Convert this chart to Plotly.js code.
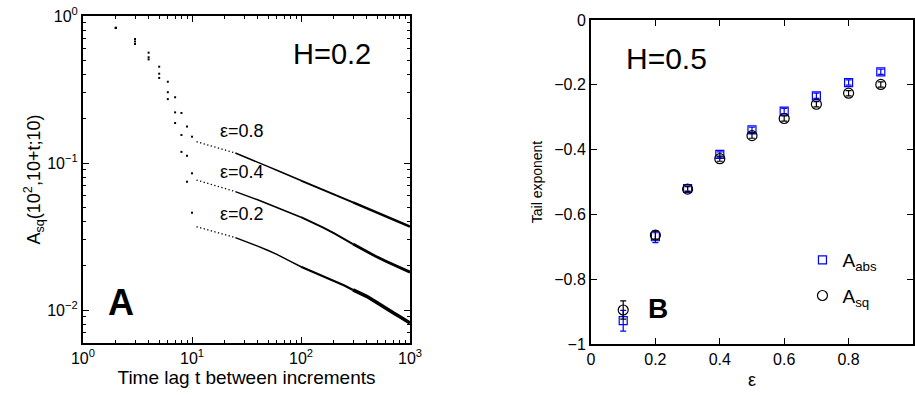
<!DOCTYPE html>
<html>
<head>
<meta charset="utf-8">
<script src="https://cdn.plot.ly/plotly-3.0.1.min.js"></script>
<style>html,body{margin:0;padding:0;background:#fff;}#chart{width:915px;height:395px;}</style>
</head>
<body>
<div id="chart"></div>
<script>
// ---------- Panel A data ----------
const tEarly = [2, 3, 4, 5, 6, 7, 8, 9, 10];
const eps08Early = [0.832, 0.697, 0.563, 0.452, 0.357, 0.280, 0.219, 0.177, 0.151];
const eps04Early = [0.830, 0.671, 0.524, 0.405, 0.303, 0.221, 0.155, 0.112, 0.0851];
const eps02Early = [0.828, 0.645, 0.507, 0.379, 0.272, 0.187, 0.119, 0.0746, 0.0459];

const tTail = [11, 12, 14, 16, 18, 20, 25, 30, 40, 50, 60, 80, 100, 130, 160, 200, 250, 300, 400, 500, 600, 700, 800, 900, 1000];
const eps08Tail = [0.1396, 0.1370, 0.1326, 0.1287, 0.1255, 0.1226, 0.1169, 0.1102, 0.1014, 0.0945, 0.0892, 0.0816, 0.0760, 0.0701, 0.0656, 0.0611, 0.0570, 0.0539, 0.0492, 0.0458, 0.0433, 0.0413, 0.0396, 0.0381, 0.0369];
const eps04Tail = [0.0766, 0.0752, 0.0727, 0.0705, 0.0687, 0.0671, 0.0639, 0.0610, 0.0562, 0.0526, 0.0499, 0.0458, 0.0428, 0.0392, 0.0364, 0.0333, 0.0304, 0.0281, 0.0249, 0.0229, 0.0215, 0.0204, 0.0195, 0.0187, 0.0181];
const eps02Tail = [0.0369, 0.0362, 0.0351, 0.0341, 0.0333, 0.0326, 0.0311, 0.0296, 0.0272, 0.0254, 0.0239, 0.0214, 0.0197, 0.0181, 0.0170, 0.0159, 0.0147, 0.0137, 0.0124, 0.0112, 0.0102, 0.00957, 0.00903, 0.00855, 0.00816];

const logTickVals = [1, 10, 100, 1000];
const logTickText = ['10<sup>0</sup>', '10<sup>1</sup>', '10<sup>2</sup>', '10<sup>3</sup>'];
const yLogTickVals = [0.01, 0.1, 1];
const yLogTickText = ['10<sup>\u22122</sup>', '10<sup>\u22121</sup>', '10<sup>0</sup>'];

// ---------- Panel B data ----------
const epsB = [0.1, 0.2, 0.3, 0.4, 0.5, 0.6, 0.7, 0.8, 0.9];
const aAbs = [-0.928, -0.669, -0.520, -0.415, -0.339, -0.281, -0.234, -0.193, -0.160];
const aAbsErr = [0.032, 0.018, 0.008, 0.008, 0.008, 0.008, 0.008, 0.008, 0.008];
const aSq = [-0.895, -0.664, -0.522, -0.428, -0.357, -0.304, -0.260, -0.226, -0.199];
const aSqErr = [0.028, 0.012, 0.008, 0.008, 0.008, 0.008, 0.008, 0.008, 0.008];
const bXTickVals = [0, 0.2, 0.4, 0.6, 0.8, 1];
const bXTickText = ['0', '0.2', '0.4', '0.6', '0.8', '1'];
const bYTickVals = [-1, -0.8, -0.6, -0.4, -0.2, 0];
const bYTickText = ['\u22121', '\u22120.8', '\u22120.6', '\u22120.4', '\u22120.2', '0'];

const FONT = 'Liberation Sans, Arial, Helvetica, sans-serif';
const traces = [];
function seg(x, y, style) {
  traces.push({x: x, y: y, mode: 'lines', type: 'scatter', xaxis: 'x', yaxis: 'y',
    line: Object.assign({color: '#000'}, style), showlegend: false, hoverinfo: 'skip'});
}
function addSeries(early, tail, w3, w4) {
  traces.push({x: tEarly, y: early, mode: 'markers', type: 'scatter', xaxis: 'x', yaxis: 'y',
    marker: {symbol: 'square', size: 2, color: '#000'}, showlegend: false, hoverinfo: 'skip'});
  seg(tTail.slice(0, 7), tail.slice(0, 7), {width: 1.3, dash: '1.3px,2.4px'});
  seg(tTail.slice(6, 13), tail.slice(6, 13), {width: 1.5});
  seg(tTail.slice(12, 18), tail.slice(12, 18), {width: w3});
  seg(tTail.slice(17), tail.slice(17), {width: w4});
}
addSeries(eps08Early, eps08Tail, 1.9, 2.5);
addSeries(eps04Early, eps04Tail, 2.0, 2.8);
addSeries(eps02Early, eps02Tail, 2.3, 3.6);

traces.push({x: epsB, y: aAbs, name: 'A<sub>abs</sub>', mode: 'markers', type: 'scatter', xaxis: 'x2', yaxis: 'y2',
  legendgroup: 'a',
  marker: {symbol: 'square-open', size: 8, color: '#0000ff', line: {width: 1.2, color: '#0000ff'}},
  error_y: {type: 'data', array: aAbsErr, visible: true, color: '#0000ff', thickness: 1.2, width: 3}});
traces.push({x: epsB, y: aSq, name: 'A<sub>sq</sub>', mode: 'markers', type: 'scatter', xaxis: 'x2', yaxis: 'y2',
  legendgroup: 'b',
  marker: {symbol: 'circle-open', size: 10, color: '#000', line: {width: 1.2, color: '#000'}},
  error_y: {type: 'data', array: aSqErr, visible: true, color: '#000', thickness: 1.2, width: 3}});

const axBase = {showgrid: false, zeroline: false, ticks: 'inside', ticklen: 6, tickwidth: 1,
  showline: true, linewidth: 2, linecolor: '#000', mirror: 'ticks', tickcolor: '#000',
  tickfont: {size: 16, family: FONT, color: '#000'}, fixedrange: true};

const layout = {
  width: 915, height: 395,
  margin: {l: 0, r: 0, t: 0, b: 0},
  paper_bgcolor: '#fff', plot_bgcolor: '#fff',
  font: {family: FONT, color: '#000'},
  showlegend: true,
  legend: {x: 0.877, y: 0.39, xanchor: 'left', yanchor: 'top', bgcolor: 'rgba(0,0,0,0)',
    font: {size: 19, family: FONT, color: '#000'}, tracegroupgap: 8, itemclick: false},
  xaxis: Object.assign({}, axBase, {type: 'log', range: [0, 3], domain: [0.0907, 0.4481], anchor: 'y',
    tickmode: 'array', tickvals: logTickVals, ticktext: logTickText,
    minor: {ticks: 'inside', ticklen: 3, dtick: 'D1', tickcolor: '#000'},
    title: {text: 'Time lag t between increments', font: {size: 19, family: FONT}, standoff: 4}}),
  yaxis: Object.assign({}, axBase, {type: 'log', range: [-2.2245, 0], domain: [0.1316, 0.9595], anchor: 'x',
    tickmode: 'array', tickvals: yLogTickVals, ticktext: yLogTickText,
    minor: {ticks: 'inside', ticklen: 3, dtick: 'D1', tickcolor: '#000'},
    title: {text: 'A<sub>sq</sub>(10<sup>2</sup>,10+t;10)', font: {size: 18, family: FONT}, standoff: 2}}),
  xaxis2: Object.assign({}, axBase, {range: [0, 1], domain: [0.6459, 0.9978], anchor: 'y2',
    tickmode: 'array', tickvals: bXTickVals, ticktext: bXTickText,
    title: {text: '\u03b5', font: {size: 18, family: FONT}, standoff: 6}}),
  yaxis2: Object.assign({}, axBase, {range: [-1, 0], domain: [0.1291, 0.9494], anchor: 'x2',
    tickmode: 'array', tickvals: bYTickVals, ticktext: bYTickText,
    title: {text: 'Tail exponent', font: {size: 14, family: FONT}, standoff: 8}}),
  annotations: [
    {xref: 'paper', yref: 'paper', x: 332 / 915, y: 1 - 54 / 395, text: 'H=0.2', showarrow: false,
      font: {size: 29, family: FONT}, xanchor: 'center', yanchor: 'middle'},
    {xref: 'paper', yref: 'paper', x: 242 / 915, y: 1 - 131 / 395, text: '\u03b5=0.8', showarrow: false,
      font: {size: 18, family: FONT}, xanchor: 'center', yanchor: 'middle'},
    {xref: 'paper', yref: 'paper', x: 242 / 915, y: 1 - 172 / 395, text: '\u03b5=0.4', showarrow: false,
      font: {size: 18, family: FONT}, xanchor: 'center', yanchor: 'middle'},
    {xref: 'paper', yref: 'paper', x: 242 / 915, y: 1 - 214 / 395, text: '\u03b5=0.2', showarrow: false,
      font: {size: 18, family: FONT}, xanchor: 'center', yanchor: 'middle'},
    {xref: 'paper', yref: 'paper', x: 121 / 915, y: 1 - 302 / 395, text: '<b>A</b>', showarrow: false,
      font: {size: 36, family: FONT}, xanchor: 'center', yanchor: 'middle'},
    {xref: 'paper', yref: 'paper', x: 666 / 915, y: 1 - 58 / 395, text: 'H=0.5', showarrow: false,
      font: {size: 30, family: FONT}, xanchor: 'center', yanchor: 'middle'},
    {xref: 'paper', yref: 'paper', x: 658 / 915, y: 1 - 308 / 395, text: '<b>B</b>', showarrow: false,
      font: {size: 28, family: FONT}, xanchor: 'center', yanchor: 'middle'}
  ]
};

Plotly.newPlot('chart', traces, layout, {staticPlot: true, displayModeBar: false});
</script>
</body>
</html>
